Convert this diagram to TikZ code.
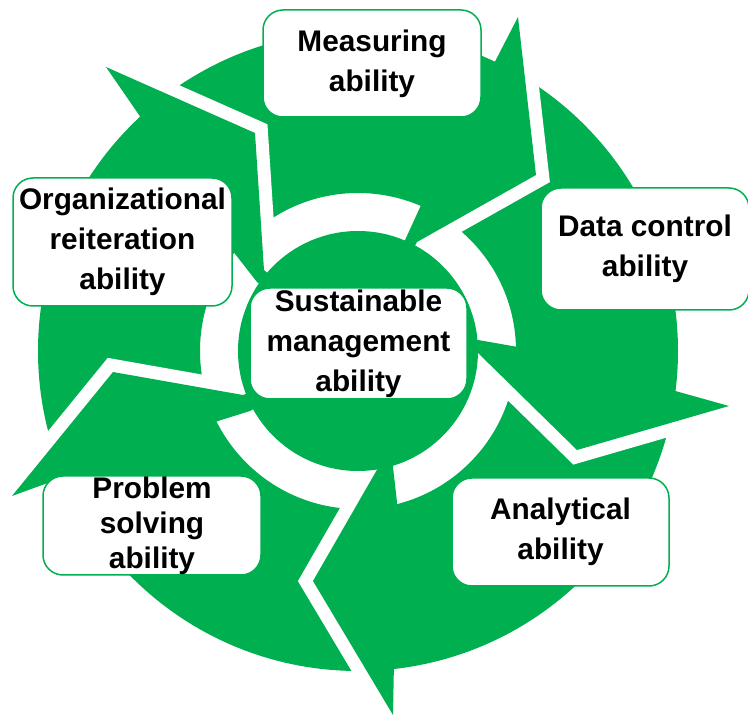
\documentclass[tikz,border=0pt]{standalone}
\usepackage{fontspec}
\setmainfont{Liberation Sans}
\usetikzlibrary{calc}
\definecolor{leaf}{RGB}{0,176,80}
\tikzstyle{box}=[draw=leaf,line width=1.5pt,fill=white,rounded corners=20pt,
  inner sep=0pt,align=center,font=\bfseries\fontsize{29.8}{40}\selectfont,
  execute at begin node={\rule{0pt}{29pt}}]
\tikzstyle{gap}=[white,line width=26pt,line join=miter]
\tikzstyle{head}=[fill=leaf]

\begin{document}
\begin{tikzpicture}[x=1pt,y=1pt]
  \useasboundingbox (0,0) rectangle (748,716);
  \coordinate (c) at (358,365);

  \fill[leaf,even odd rule] (c) circle (320) (c) circle (158);

  \draw[gap] (518,699) -- (536,541) -- ($(536,541)!1.1!(417,474)$);
  \draw[gap] (106,649) -- (255,583) -- ($(255,583)!1.1!(264,446)$);
  \draw[gap] (12,220) -- (113,344) -- ($(113,344)!1.1!(243,321)$);
  \draw[gap] (393,1) -- (313,135) -- ($(313,135)!1.1!(378,248)$);
  \draw[gap] (729,310) -- (577,266) -- ($(577,266)!1.1!(477,364)$);

  \fill[head] (518,699) -- (536,541) -- (417,474) -- (c) -- (406,478) -- (422,513) -- cycle;
  \fill[head] (106,649) -- (255,583) -- (264,446) -- (c) -- (257,434) -- (232,466) -- cycle;
  \fill[head] (12,220) -- (113,344) -- (243,321) -- (c) -- (250,305) -- (218,295) -- cycle;
  \fill[head] (393,1) -- (313,135) -- (378,248) -- (c) -- (393,249) -- (397,214) -- cycle;
  \fill[head] (729,310) -- (577,266) -- (477,364) -- (c) -- (478,376) -- (518,369) -- cycle;

  \fill[leaf] (c) circle (120);

  \node[box, minimum width=218pt, minimum height=107pt] (meas) at (372,652.5)
  {Measuring\\ability};
  \node[box, minimum width=208pt, minimum height=122pt] (data) at (645,467)
  {Data control\\ability};
  \node[box, minimum width=217pt, minimum height=108pt] (anly) at (560.5,184)
  {Analytical\\ability};
  \node[box, minimum width=218pt, minimum height=99pt,
  font=\bfseries\fontsize{29.8}{35}\selectfont] (prob) at (152,190.5)
  {Problem\\solving\\ability};
  \node[box, minimum width=219pt, minimum height=128pt] (orga) at (122.5,474)
  {Organizational\\reiteration\\ability};
  \node[box, minimum width=217pt, minimum height=111pt] (sust) at (358.5,372.5)
  {Sustainable\\management\\ability};
\end{tikzpicture}
\end{document}
